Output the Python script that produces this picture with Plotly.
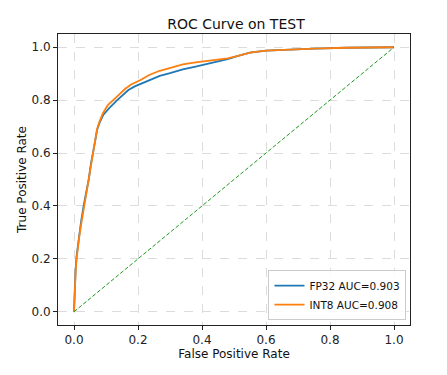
import plotly.graph_objects as go

fp32_fpr = [0, 0.002, 0.005, 0.008, 0.012, 0.016, 0.022, 0.030, 0.038, 0.046, 0.053, 0.060, 0.066, 0.072, 0.080, 0.092, 0.110, 0.135, 0.150, 0.170, 0.190, 0.211, 0.240, 0.268, 0.300, 0.340, 0.380, 0.420, 0.447, 0.480, 0.510, 0.550, 0.600, 0.675, 0.750, 0.850, 1.0]
fp32_tpr = [0, 0.10, 0.16, 0.21, 0.25, 0.30, 0.34, 0.40, 0.45, 0.50, 0.56, 0.60, 0.645, 0.687, 0.715, 0.745, 0.77, 0.80, 0.815, 0.838, 0.852, 0.863, 0.88, 0.892, 0.902, 0.916, 0.927, 0.938, 0.945, 0.955, 0.966, 0.980, 0.987, 0.992, 0.995, 0.998, 1.0]

int8_fpr = [0, 0.002, 0.005, 0.008, 0.012, 0.017, 0.023, 0.031, 0.039, 0.047, 0.054, 0.060, 0.066, 0.072, 0.080, 0.090, 0.105, 0.124, 0.140, 0.160, 0.180, 0.208, 0.235, 0.268, 0.300, 0.340, 0.380, 0.420, 0.447, 0.480, 0.510, 0.550, 0.600, 0.675, 0.750, 0.850, 1.0]
int8_tpr = [0, 0.09, 0.15, 0.20, 0.245, 0.29, 0.335, 0.395, 0.445, 0.50, 0.555, 0.60, 0.645, 0.69, 0.72, 0.75, 0.78, 0.80, 0.82, 0.843, 0.86, 0.876, 0.895, 0.911, 0.922, 0.935, 0.943, 0.948, 0.952, 0.958, 0.966, 0.980, 0.987, 0.992, 0.995, 0.998, 1.0]

diag = [0, 1]
labels = ["FP32 AUC=0.903", "INT8 AUC=0.908"]
tick_vals = [0.0, 0.2, 0.4, 0.6, 0.8, 1.0]

font = "DejaVu Sans"

fig = go.Figure()
fig.add_trace(go.Scatter(x=fp32_fpr, y=fp32_tpr, mode="lines", name=labels[0],
                         line=dict(color="#1f77b4", width=1.8)))
fig.add_trace(go.Scatter(x=int8_fpr, y=int8_tpr, mode="lines", name=labels[1],
                         line=dict(color="#ff7f0e", width=1.8)))
fig.add_trace(go.Scatter(x=diag, y=diag, mode="lines", showlegend=False,
                         line=dict(color="#1f9a1f", width=1, dash="4px,2px")))

axis_common = dict(
    range=[-0.05, 1.05], tickvals=tick_vals, tickformat=".1f",
    showline=True, linecolor="#222", linewidth=1, mirror=True,
    ticks="outside", ticklen=4, tickcolor="#222", tickwidth=1,
    showgrid=True, gridcolor="#dcdcdc", griddash="dash", gridwidth=0.8,
    zeroline=False, tickfont=dict(family=font, size=12, color="#222"),
)

fig.update_layout(
    width=447, height=375,
    margin=dict(l=50, r=45, t=26, b=58),
    paper_bgcolor="white", plot_bgcolor="white",
    title=dict(text="ROC Curve on TEST", x=(50 + 402) / 2 / 447, xanchor="center",
               y=1 - 16 / 375, yanchor="middle",
               xref="paper",
               font=dict(family=font, size=14, color="#111")),
    xaxis=dict(axis_common, title=dict(text="False Positive Rate", standoff=2,
                                       font=dict(family=font, size=12, color="#111"))),
    yaxis=dict(axis_common, title=dict(text="True Positive Rate", standoff=2,
                                       font=dict(family=font, size=12, color="#111"))),
    legend=dict(x=0.99, y=0.017, xanchor="right", yanchor="bottom",
                bgcolor="rgba(255,255,255,0.85)", bordercolor="#cccccc", borderwidth=1,
                font=dict(family=font, size=10.5, color="#111"),
                tracegroupgap=0, itemwidth=30),
    showlegend=True,
)

fig.write_html("out.html")
